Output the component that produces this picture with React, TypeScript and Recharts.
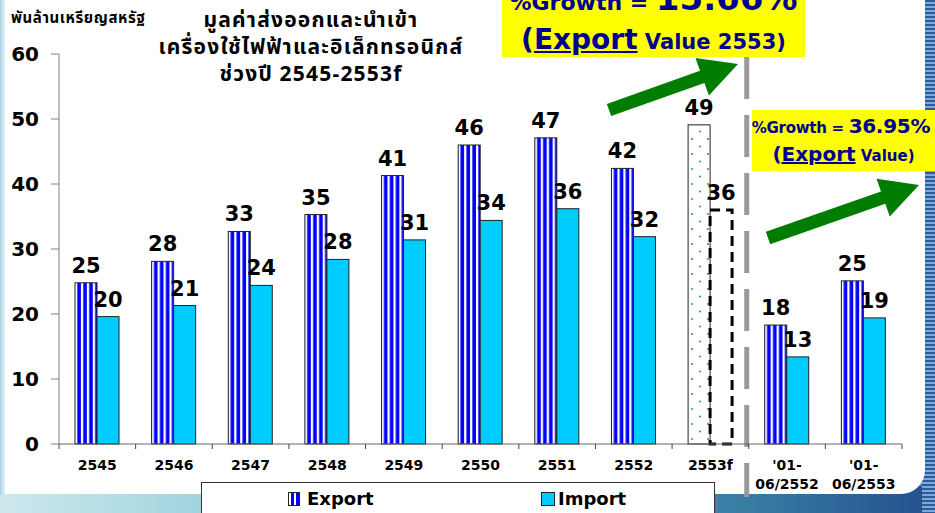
import React from 'react';
import { BarChart, Bar, XAxis, YAxis, ReferenceLine, LabelList } from 'recharts';

const years = ['2545', '2546', '2547', '2548', '2549', '2550', '2551', '2552', '2553f', "'01-06/2552", "'01-06/2553"];
const exportValues = [24.8, 28.1, 32.7, 35.3, 41.3, 46.0, 47.1, 42.4, 49.1, 18.3, 25.1];
const importValues = [19.6, 21.3, 24.4, 28.4, 31.4, 34.4, 36.2, 31.9, 36.0, 13.4, 19.4];
const yTicks = [0, 10, 20, 30, 40, 50, 60];

const titleLines = ['มูลค่าส่งออกและนำเข้า', 'เครื่องใช้ไฟฟ้าและอิเล็กทรอนิกส์', 'ช่วงปี 2545-2553f'];
const unitLabel = 'พันล้านเหรียญสหรัฐ';
const forecastYear = '2553f';
const halfYearStart = "'01-06/2552";

const growthYear = { label: '%Growth = ', value: '15.66%', word: 'Export', rest: ' Value 2553)' };
const growthHalf = { label: '%Growth = ', value: '36.95%', word: 'Export', rest: ' Value)' };

const data = years.map((year, i) => ({ year, export: exportValues[i], import: importValues[i] }));

const numFont = '"DejaVu Sans", Verdana, sans-serif';
const thaiFont = 'Tahoma, "Noto Sans Thai", "DejaVu Sans", sans-serif';
const navy = '#000090';
const green = '#007d00';

// split "'01-06/2552" into two lines like the original axis
const XTick = (props: any) => {
  const { x, y, payload, index } = props;
  const half = payload.offset ?? 38.3;
  const label: string = payload.value;
  const lines = label.startsWith("'") ? [label.split('-')[0] + '-', label.split('-')[1]] : [label];
  return (
    <g>
      <line x1={x - half} x2={x - half} y1={y} y2={y + 5} stroke="#444" />
      {index === years.length - 1 && <line x1={x + half} x2={x + half} y1={y} y2={y + 5} stroke="#444" />}
      <text x={x} y={y + 26} textAnchor="middle" fontSize={14} fontWeight="bold" fill="#000" fontFamily={numFont}>
        {lines.map((l, i) => (
          <tspan key={i} x={x} dy={i === 0 ? 0 : 19}>{l}</tspan>
        ))}
      </text>
    </g>
  );
};

const ExportShape = (props: any) => {
  const { x, y, width, height, payload } = props;
  const forecast = payload.year === forecastYear;
  return (
    <rect x={x} y={y} width={width} height={height}
      fill={forecast ? 'url(#dots)' : 'url(#stripes)'} stroke="#222" strokeWidth={1} />
  );
};

const ImportShape = (props: any) => {
  const { x, y, width, height, payload } = props;
  if (payload.year === forecastYear) {
    return (
      <rect x={x} y={y} width={width} height={height} fill="none"
        stroke="#000" strokeWidth={3} strokeDasharray="10 6" />
    );
  }
  return <rect x={x} y={y} width={width} height={height} fill="#00ccff" stroke="#222" strokeWidth={1} />;
};

const ValueLabel = (props: any) => {
  const { x, y, width, value } = props;
  return (
    <text x={x + width / 2} y={y - 10} textAnchor="middle" fontSize={21} fontWeight="bold" fill="#000" fontFamily={numFont}>
      {Math.round(value)}
    </text>
  );
};

const DividerLine = (props: any) => {
  const { x1, y1, y2 } = props;
  const top = Math.min(y1, y2);
  const bottom = Math.max(y1, y2);
  return <line x1={x1 - 2} x2={x1 - 2} y1={top + 3} y2={bottom + 53} stroke="#9a9a9a" strokeWidth={5} strokeDasharray="42 16" />;
};

// arrow polygon from tail to tip
const arrow = (x1: number, y1: number, x2: number, y2: number, shaft: number, headLen: number, headHalf: number) => {
  const dx = x2 - x1;
  const dy = y2 - y1;
  const len = Math.sqrt(dx * dx + dy * dy);
  const ux = dx / len, uy = dy / len;
  const nx = -uy, ny = ux;
  const bx = x2 - ux * headLen, by = y2 - uy * headLen;
  const pts = [
    [x1 + nx * shaft, y1 + ny * shaft],
    [bx + nx * shaft, by + ny * shaft],
    [bx + nx * headHalf, by + ny * headHalf],
    [x2, y2],
    [bx - nx * headHalf, by - ny * headHalf],
    [bx - nx * shaft, by - ny * shaft],
    [x1 - nx * shaft, y1 - ny * shaft],
  ];
  return pts.map(p => p.join(',')).join(' ');
};

const App = () => {
  return (
    <div style={{ position: 'absolute', left: 0, top: 0, width: 935, height: 513, overflow: 'hidden', background: '#4f93ae' }}>
      {/* slide background */}
      <div style={{ position: 'absolute', left: 0, top: 486, width: 935, height: 27, background: 'linear-gradient(to right, #cde9ee, #7cc2d0 40%, #3d86a8 75%, #23508e)' }} />
      <div style={{ position: 'absolute', left: 922, top: 0, width: 13, height: 513, background: 'repeating-linear-gradient(to bottom, #2b5c98 0 2px, #7ea8d6 2px 4px)' }} />
      <div style={{ position: 'absolute', left: 0, top: 0, width: 6, height: 495, background: 'linear-gradient(to right, #a9d4e2, #eef6f9)' }} />
      <div style={{ position: 'absolute', left: 5, top: 0, width: 920, height: 494, background: '#fff', borderRadius: '0 0 24px 0' }} />

      <div style={{ position: 'absolute', left: 0, top: 0 }}>
        <BarChart width={935} height={513} data={data} margin={{ top: 54, right: 33, bottom: 19, left: 0 }} barGap={0} barSize={22}>
          <defs>
            <pattern id="stripes" patternUnits="objectBoundingBox" width={0.27} height={1}>
              <rect x={0} y={0} width={10} height={1000} fill="#ffffff" />
              <rect x={2.3} y={0} width={3.6} height={1000} fill="#0000ff" />
            </pattern>
            <pattern id="dots" patternUnits="userSpaceOnUse" width={16} height={15}>
              <rect width={16} height={15} fill="#ffffff" />
              <circle cx={4} cy={4} r={1} fill="#2e9e3e" />
              <circle cx={12} cy={11.5} r={1} fill="#2e9e3e" />
            </pattern>
          </defs>
          <XAxis dataKey="year" height={50} tickLine={false} tickSize={0} tickMargin={0}
            axisLine={{ stroke: '#666' }} tick={<XTick />} interval={0} />
          <YAxis width={59} domain={[0, 60]} ticks={yTicks} tickSize={8} tickMargin={12}
            axisLine={{ stroke: '#808080' }} tickLine={{ stroke: '#808080' }}
            tick={{ fontSize: 20, fontWeight: 'bold', fill: '#000', fontFamily: numFont }} />
          <ReferenceLine x={halfYearStart} position="start" shape={<DividerLine />} ifOverflow="visible" />
          <Bar dataKey="export" name="Export" shape={<ExportShape />} isAnimationActive={false}>
            <LabelList dataKey="export" content={<ValueLabel />} />
          </Bar>
          <Bar dataKey="import" name="Import" shape={<ImportShape />} isAnimationActive={false}>
            <LabelList dataKey="import" content={<ValueLabel />} />
          </Bar>
        </BarChart>
      </div>

      {/* unit label and title */}
      <div style={{ position: 'absolute', left: 11, top: 7, fontFamily: thaiFont, fontWeight: 'bold', fontSize: 15, letterSpacing: 0.6, color: '#000', whiteSpace: 'nowrap' }}>
        {unitLabel}
      </div>
      <div style={{ position: 'absolute', left: 111, top: 7, width: 400, textAlign: 'center', fontFamily: thaiFont, fontWeight: 'bold', fontSize: 21, letterSpacing: 1.2, lineHeight: '27px', color: '#000', whiteSpace: 'nowrap' }}>
        {titleLines.map((l, i) => <div key={i}>{l}</div>)}
      </div>

      {/* legend */}
      <div style={{ position: 'absolute', left: 201, top: 482, width: 512, height: 40, border: '1px solid #333', background: '#fff', fontFamily: numFont, fontWeight: 'bold', fontSize: 18, color: '#000' }}>
        <div style={{ position: 'absolute', left: 86, top: 9, width: 12, height: 14, border: '1px solid #222', boxSizing: 'border-box', background: 'repeating-linear-gradient(to right, #fff 0 2px, #0000ff 2px 5px)' }} />
        <div style={{ position: 'absolute', left: 105, top: 6, lineHeight: '20px' }}>Export</div>
        <div style={{ position: 'absolute', left: 339, top: 9, width: 14, height: 14, border: '1px solid #222', boxSizing: 'border-box', background: '#00ccff' }} />
        <div style={{ position: 'absolute', left: 356, top: 6, lineHeight: '20px' }}>Import</div>
      </div>

      {/* arrows */}
      <svg width={935} height={513} style={{ position: 'absolute', left: 0, top: 0 }}>
        <polygon points={arrow(609, 110, 738, 64, 6.5, 38, 20)} fill={green} />
        <polygon points={arrow(768, 238, 919, 185, 6.5, 38, 20)} fill={green} />
      </svg>

      {/* growth call-outs */}
      <div style={{ position: 'absolute', left: 502, top: 0, width: 303, height: 57, background: '#ffff00', fontFamily: numFont, fontWeight: 'bold', color: navy, textAlign: 'center', whiteSpace: 'nowrap' }}>
        <div style={{ position: 'absolute', left: 0, width: 303, top: -22, lineHeight: '40px' }}>
          <span style={{ fontSize: 22 }}>{growthYear.label}</span>
          <span style={{ fontSize: 34 }}>{growthYear.value}</span>
        </div>
        <div style={{ position: 'absolute', left: 0, width: 303, top: 22, lineHeight: '36px' }}>
          <span style={{ fontSize: 28 }}>(</span>
          <span style={{ fontSize: 28, textDecoration: 'underline' }}>{growthYear.word}</span>
          <span style={{ fontSize: 21 }}>{growthYear.rest}</span>
        </div>
      </div>
      <div style={{ position: 'absolute', left: 752, top: 110, width: 183, height: 61, background: '#ffff00', fontFamily: numFont, fontWeight: 'bold', color: navy, textAlign: 'center', whiteSpace: 'nowrap' }}>
        <div style={{ position: 'absolute', left: -6, width: 190, top: 3, lineHeight: '26px', letterSpacing: -0.3 }}>
          <span style={{ fontSize: 15 }}>{growthHalf.label}</span>
          <span style={{ fontSize: 20 }}>{growthHalf.value}</span>
        </div>
        <div style={{ position: 'absolute', left: 0, width: 183, top: 31, lineHeight: '26px' }}>
          <span style={{ fontSize: 20 }}>(</span>
          <span style={{ fontSize: 20, textDecoration: 'underline' }}>{growthHalf.word}</span>
          <span style={{ fontSize: 15 }}>{growthHalf.rest}</span>
        </div>
      </div>
    </div>
  );
};

export default App;
